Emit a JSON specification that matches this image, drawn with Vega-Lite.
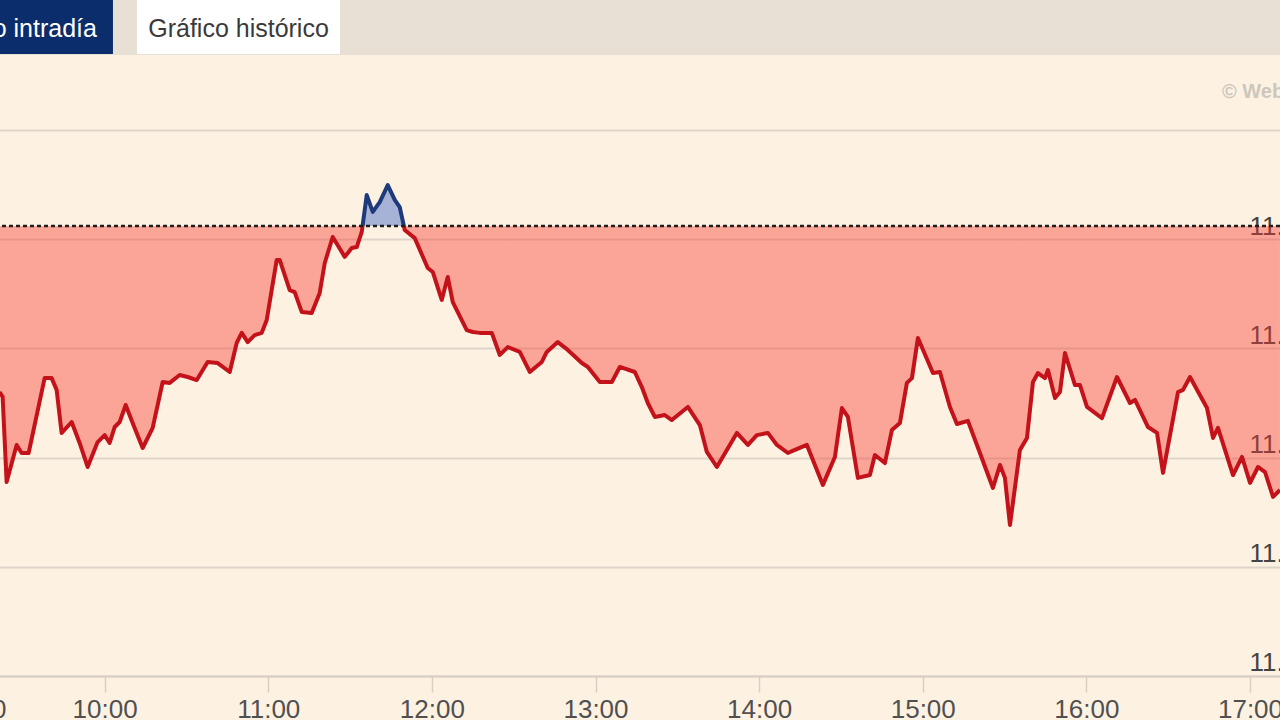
{
  "$schema": "https://vega.github.io/schema/vega-lite/v6.json",
  "width": 1339,
  "height": 665,
  "autosize": {"type": "none"},
  "padding": {"left": -59, "top": 55, "right": 0, "bottom": 0},
  "background": "#e8e0d5",
  "config": {"view": {"fill": "#fdf2e2", "stroke": null}, "font": "Liberation Sans"},
  "resolve": {"scale": {"x": "independent"}},
  "layer": [
    {
      "data": {"values": [{"tab": "Gráfico intradía"}, {"tab": "Gráfico histórico"}]},
      "layer": [
        {"mark": {"type": "rect"},
         "encoding": {
           "x": {"field": "tab", "type": "nominal", "sort": null,
                 "scale": {"domain": ["Gráfico intradía", "Gráfico histórico"], "range": [-31, 399], "paddingInner": 0.106, "paddingOuter": 0},
                 "axis": null},
           "y": {"value": -55}, "y2": {"value": -1},
           "fill": {"field": "tab", "type": "nominal", "scale": {"domain": ["Gráfico intradía", "Gráfico histórico"], "range": ["#0c2d6b", "#ffffff"]}, "legend": null}}},
        {"mark": {"type": "text", "fontSize": 25, "font": "Liberation Sans", "baseline": "middle", "align": "center"},
         "encoding": {
           "x": {"field": "tab", "type": "nominal", "sort": null,
                 "scale": {"domain": ["Gráfico intradía", "Gráfico histórico"], "range": [-31, 399], "paddingInner": 0.106, "paddingOuter": 0},
                 "axis": null},
           "y": {"value": -26}, "text": {"field": "tab"},
           "color": {"field": "tab", "type": "nominal", "scale": {"domain": ["Gráfico intradía", "Gráfico histórico"], "range": ["#ffffff", "#3a3a3a"]}, "legend": null}}}
      ]
    },
    {
      "data": {"values": [{"label": "© Web"}]},
      "mark": {"type": "text", "align": "left", "baseline": "middle", "fontSize": 20, "fontWeight": "bold", "color": "#cdc6bd"},
      "encoding": {"x": {"value": 1281}, "y": {"value": 37}, "text": {"field": "label"}}
    },
    {
      "data": {"values": [
        {"t": "2024-01-15T09:21:30", "p": 11.1300},
        {"t": "2024-01-15T09:22:36", "p": 11.1278},
        {"t": "2024-01-15T09:24:04", "p": 11.0888},
        {"t": "2024-01-15T09:27:44", "p": 11.1058},
        {"t": "2024-01-15T09:29:34", "p": 11.1021},
        {"t": "2024-01-15T09:32:08", "p": 11.1021},
        {"t": "2024-01-15T09:38:00", "p": 11.1364},
        {"t": "2024-01-15T09:40:34", "p": 11.1364},
        {"t": "2024-01-15T09:42:24", "p": 11.1310},
        {"t": "2024-01-15T09:44:14", "p": 11.1113},
        {"t": "2024-01-15T09:47:55", "p": 11.1163},
        {"t": "2024-01-15T09:50:50", "p": 11.1067},
        {"t": "2024-01-15T09:53:46", "p": 11.0957},
        {"t": "2024-01-15T09:57:26", "p": 11.1071},
        {"t": "2024-01-15T10:00:01", "p": 11.1103},
        {"t": "2024-01-15T10:01:50", "p": 11.1067},
        {"t": "2024-01-15T10:03:41", "p": 11.1140},
        {"t": "2024-01-15T10:05:31", "p": 11.1163},
        {"t": "2024-01-15T10:07:43", "p": 11.1241},
        {"t": "2024-01-15T10:10:17", "p": 11.1158},
        {"t": "2024-01-15T10:13:57", "p": 11.1044},
        {"t": "2024-01-15T10:17:37", "p": 11.1136},
        {"t": "2024-01-15T10:21:17", "p": 11.1346},
        {"t": "2024-01-15T10:23:51", "p": 11.1342},
        {"t": "2024-01-15T10:27:31", "p": 11.1378},
        {"t": "2024-01-15T10:30:28", "p": 11.1369},
        {"t": "2024-01-15T10:33:46", "p": 11.1355},
        {"t": "2024-01-15T10:37:47", "p": 11.1438},
        {"t": "2024-01-15T10:41:28", "p": 11.1433},
        {"t": "2024-01-15T10:45:52", "p": 11.1392},
        {"t": "2024-01-15T10:48:26", "p": 11.1525},
        {"t": "2024-01-15T10:50:16", "p": 11.1571},
        {"t": "2024-01-15T10:52:28", "p": 11.1529},
        {"t": "2024-01-15T10:55:02", "p": 11.1561},
        {"t": "2024-01-15T10:57:36", "p": 11.1571},
        {"t": "2024-01-15T10:59:26", "p": 11.1630},
        {"t": "2024-01-15T11:03:06", "p": 11.1905},
        {"t": "2024-01-15T11:04:12", "p": 11.1905},
        {"t": "2024-01-15T11:07:52", "p": 11.1767},
        {"t": "2024-01-15T11:09:42", "p": 11.1758},
        {"t": "2024-01-15T11:12:16", "p": 11.1667},
        {"t": "2024-01-15T11:15:56", "p": 11.1662},
        {"t": "2024-01-15T11:18:52", "p": 11.1754},
        {"t": "2024-01-15T11:20:43", "p": 11.1891},
        {"t": "2024-01-15T11:23:38", "p": 11.2010},
        {"t": "2024-01-15T11:28:03", "p": 11.1919},
        {"t": "2024-01-15T11:30:37", "p": 11.1960},
        {"t": "2024-01-15T11:32:27", "p": 11.1964},
        {"t": "2024-01-15T11:34:17", "p": 11.2033},
        {"t": "2024-01-15T11:36:07", "p": 11.2202},
        {"t": "2024-01-15T11:38:19", "p": 11.2125},
        {"t": "2024-01-15T11:40:53", "p": 11.2170},
        {"t": "2024-01-15T11:43:49", "p": 11.2248},
        {"t": "2024-01-15T11:46:23", "p": 11.2180},
        {"t": "2024-01-15T11:48:13", "p": 11.2147},
        {"t": "2024-01-15T11:50:03", "p": 11.2042},
        {"t": "2024-01-15T11:53:43", "p": 11.2005},
        {"t": "2024-01-15T11:58:29", "p": 11.1868},
        {"t": "2024-01-15T12:00:19", "p": 11.1850},
        {"t": "2024-01-15T12:03:37", "p": 11.1722},
        {"t": "2024-01-15T12:05:49", "p": 11.1827},
        {"t": "2024-01-15T12:07:40", "p": 11.1712},
        {"t": "2024-01-15T12:12:47", "p": 11.1584},
        {"t": "2024-01-15T12:14:59", "p": 11.1575},
        {"t": "2024-01-15T12:17:34", "p": 11.1571},
        {"t": "2024-01-15T12:21:58", "p": 11.1571},
        {"t": "2024-01-15T12:24:54", "p": 11.1470},
        {"t": "2024-01-15T12:27:50", "p": 11.1506},
        {"t": "2024-01-15T12:32:14", "p": 11.1484},
        {"t": "2024-01-15T12:35:54", "p": 11.1392},
        {"t": "2024-01-15T12:40:19", "p": 11.1438},
        {"t": "2024-01-15T12:42:08", "p": 11.1484},
        {"t": "2024-01-15T12:46:10", "p": 11.1529},
        {"t": "2024-01-15T12:49:50", "p": 11.1493},
        {"t": "2024-01-15T12:54:59", "p": 11.1433},
        {"t": "2024-01-15T12:57:11", "p": 11.1415},
        {"t": "2024-01-15T13:01:35", "p": 11.1346},
        {"t": "2024-01-15T13:05:59", "p": 11.1346},
        {"t": "2024-01-15T13:08:55", "p": 11.1415},
        {"t": "2024-01-15T13:14:25", "p": 11.1392},
        {"t": "2024-01-15T13:16:59", "p": 11.1323},
        {"t": "2024-01-15T13:19:11", "p": 11.1250},
        {"t": "2024-01-15T13:21:45", "p": 11.1186},
        {"t": "2024-01-15T13:25:25", "p": 11.1195},
        {"t": "2024-01-15T13:27:59", "p": 11.1172},
        {"t": "2024-01-15T13:33:52", "p": 11.1232},
        {"t": "2024-01-15T13:38:16", "p": 11.1149},
        {"t": "2024-01-15T13:40:50", "p": 11.1026},
        {"t": "2024-01-15T13:44:30", "p": 11.0957},
        {"t": "2024-01-15T13:51:50", "p": 11.1113},
        {"t": "2024-01-15T13:55:52", "p": 11.1058},
        {"t": "2024-01-15T13:59:10", "p": 11.1103},
        {"t": "2024-01-15T14:03:13", "p": 11.1113},
        {"t": "2024-01-15T14:06:31", "p": 11.1058},
        {"t": "2024-01-15T14:10:32", "p": 11.1021},
        {"t": "2024-01-15T14:13:07", "p": 11.1035},
        {"t": "2024-01-15T14:17:31", "p": 11.1058},
        {"t": "2024-01-15T14:23:23", "p": 11.0875},
        {"t": "2024-01-15T14:27:47", "p": 11.1003},
        {"t": "2024-01-15T14:30:21", "p": 11.1227},
        {"t": "2024-01-15T14:32:33", "p": 11.1186},
        {"t": "2024-01-15T14:36:13", "p": 11.0907},
        {"t": "2024-01-15T14:40:37", "p": 11.0920},
        {"t": "2024-01-15T14:42:27", "p": 11.1012},
        {"t": "2024-01-15T14:46:07", "p": 11.0975},
        {"t": "2024-01-15T14:48:41", "p": 11.1126},
        {"t": "2024-01-15T14:51:37", "p": 11.1158},
        {"t": "2024-01-15T14:54:11", "p": 11.1342},
        {"t": "2024-01-15T14:56:02", "p": 11.1364},
        {"t": "2024-01-15T14:58:14", "p": 11.1548},
        {"t": "2024-01-15T15:03:44", "p": 11.1387},
        {"t": "2024-01-15T15:06:18", "p": 11.1392},
        {"t": "2024-01-15T15:09:58", "p": 11.1232},
        {"t": "2024-01-15T15:12:32", "p": 11.1154},
        {"t": "2024-01-15T15:16:34", "p": 11.1168},
        {"t": "2024-01-15T15:20:58", "p": 11.1021},
        {"t": "2024-01-15T15:25:44", "p": 11.0861},
        {"t": "2024-01-15T15:28:19", "p": 11.0966},
        {"t": "2024-01-15T15:30:08", "p": 11.0907},
        {"t": "2024-01-15T15:31:59", "p": 11.0691},
        {"t": "2024-01-15T15:35:38", "p": 11.1035},
        {"t": "2024-01-15T15:38:13", "p": 11.1090},
        {"t": "2024-01-15T15:40:25", "p": 11.1346},
        {"t": "2024-01-15T15:42:15", "p": 11.1387},
        {"t": "2024-01-15T15:44:49", "p": 11.1364},
        {"t": "2024-01-15T15:45:55", "p": 11.1401},
        {"t": "2024-01-15T15:48:29", "p": 11.1273},
        {"t": "2024-01-15T15:50:19", "p": 11.1300},
        {"t": "2024-01-15T15:52:09", "p": 11.1479},
        {"t": "2024-01-15T15:55:49", "p": 11.1332},
        {"t": "2024-01-15T15:57:39", "p": 11.1332},
        {"t": "2024-01-15T16:00:13", "p": 11.1232},
        {"t": "2024-01-15T16:05:43", "p": 11.1181},
        {"t": "2024-01-15T16:11:13", "p": 11.1369},
        {"t": "2024-01-15T16:15:59", "p": 11.1250},
        {"t": "2024-01-15T16:17:50", "p": 11.1264},
        {"t": "2024-01-15T16:22:36", "p": 11.1140},
        {"t": "2024-01-15T16:25:54", "p": 11.1113},
        {"t": "2024-01-15T16:28:06", "p": 11.0930},
        {"t": "2024-01-15T16:33:36", "p": 11.1300},
        {"t": "2024-01-15T16:35:26", "p": 11.1310},
        {"t": "2024-01-15T16:38:00", "p": 11.1369},
        {"t": "2024-01-15T16:44:14", "p": 11.1227},
        {"t": "2024-01-15T16:46:26", "p": 11.1090},
        {"t": "2024-01-15T16:48:16", "p": 11.1136},
        {"t": "2024-01-15T16:53:46", "p": 11.0920},
        {"t": "2024-01-15T16:57:04", "p": 11.1003},
        {"t": "2024-01-15T17:00:01", "p": 11.0884},
        {"t": "2024-01-15T17:02:56", "p": 11.0957},
        {"t": "2024-01-15T17:05:30", "p": 11.0934},
        {"t": "2024-01-15T17:08:26", "p": 11.0820},
        {"t": "2024-01-15T17:10:59", "p": 11.0852}
      ]},
      "layer": [
        {"mark": {"type": "area", "interpolate": "linear", "fillOpacity": 0.42,
                  "fill": {"gradient": "linear", "x1": 0, "y1": 0, "x2": 0, "y2": 1,
                           "stops": [{"offset": 0, "color": "#3059c8"}, {"offset": 0.1207, "color": "#3059c8"}, {"offset": 0.1207, "color": "#f73a30"}, {"offset": 1, "color": "#f73a30"}]}},
         "encoding": {
           "x": {"field": "t", "type": "temporal",
                 "scale": {"domain": ["2024-01-15T09:00:00", "2024-01-15T17:11:00"]},
                 "axis": {"format": "%H:%M", "grid": false, "offset": -44,
                          "values": [
                            {"year": 2024, "month": 1, "date": 15, "hours": 9},
                            {"year": 2024, "month": 1, "date": 15, "hours": 10},
                            {"year": 2024, "month": 1, "date": 15, "hours": 11},
                            {"year": 2024, "month": 1, "date": 15, "hours": 12},
                            {"year": 2024, "month": 1, "date": 15, "hours": 13},
                            {"year": 2024, "month": 1, "date": 15, "hours": 14},
                            {"year": 2024, "month": 1, "date": 15, "hours": 15},
                            {"year": 2024, "month": 1, "date": 15, "hours": 16},
                            {"year": 2024, "month": 1, "date": 15, "hours": 17}
                          ],
                          "domainColor": "#d8d0c5", "domainWidth": 2, "tickColor": "#d8d0c5", "tickWidth": 1.5, "tickSize": 16,
                          "labelFont": "Liberation Sans", "labelFontSize": 26, "labelColor": "#505050", "labelPadding": 4,
                          "labelFlush": true, "labelOverlap": false, "title": null}},
           "y": {"field": "p", "type": "quantitative",
                 "scale": {"domain": [10.97985, 11.28434], "nice": false, "zero": false},
                 "axis": {"orient": "right", "values": [11.0, 11.05, 11.1, 11.15, 11.2, 11.25], "format": ".2f",
                          "labelExpr": "datum.value > 11.22 ? '' : datum.label",
                          "grid": true, "gridColor": "#ddd5ca", "gridWidth": 2, "domain": false, "ticks": false,
                          "labelAlign": "left", "labelBaseline": "alphabetic", "labelPadding": -31, "labelOffset": -5,
                          "labelFont": "Liberation Sans", "labelFontSize": 26, "labelColor": "#444444",
                          "labelOverlap": false, "labelFlush": false, "title": null}},
           "y2": {"datum": 11.206}
         }},
        {"mark": {"type": "line", "interpolate": "linear", "strokeWidth": 4, "strokeJoin": "round",
                  "stroke": {"gradient": "linear", "x1": 0, "y1": 0, "x2": 0, "y2": 1,
                             "stops": [{"offset": 0, "color": "#1d3b7b"}, {"offset": 0.1207, "color": "#1d3b7b"}, {"offset": 0.1207, "color": "#c4121b"}, {"offset": 1, "color": "#c4121b"}]}},
         "encoding": {"x": {"field": "t", "type": "temporal"}, "y": {"field": "p", "type": "quantitative"}}}
      ]
    },
    {
      "data": {"values": [{"ref": 11.206}]},
      "mark": {"type": "rule", "color": "#1e1e1e", "strokeWidth": 2.5, "strokeDash": [4, 3]},
      "encoding": {"y": {"field": "ref", "type": "quantitative"}}
    }
  ]
}
